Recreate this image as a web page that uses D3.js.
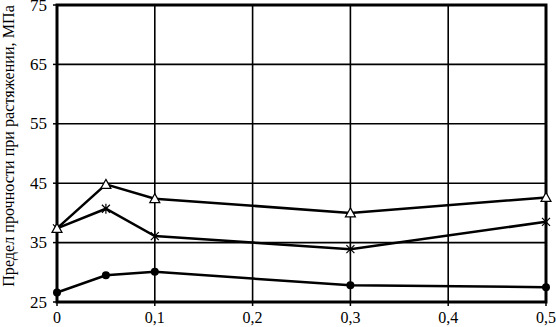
<!DOCTYPE html>
<html>
<head>
<meta charset="utf-8">
<script src="https://cdn.jsdelivr.net/npm/d3@7"></script>
<style>
body { margin: 0; background: #fff; }
svg { display: block; }
</style>
</head>
<body>
<div id="chart"></div>
<script>
var xValues = [0, 0.05, 0.1, 0.3, 0.5];
var triangleSeries = [37.4, 44.8, 42.4, 40.0, 42.6];
var starSeries = [37.4, 40.7, 36.1, 33.9, 38.5];
var circleSeries = [26.6, 29.5, 30.1, 27.8, 27.5];
var xTicks = [0, 0.1, 0.2, 0.3, 0.4, 0.5];
var yTicks = [25, 35, 45, 55, 65, 75];
var yTitle = "Предел прочности при растяжении, МПа";

var width = 556, height = 327,
	plotLeft = 57, plotRight = 546, plotTop = 5, plotBottom = 302,
	fontName = "Liberation Serif";

var svg = d3.select("#chart").append("svg")
	.attr("width", width).attr("height", height);

var x = d3.scaleLinear().domain([0, 0.5]).range([plotLeft, plotRight]);
var y = d3.scaleLinear().domain([25, 75]).range([plotBottom, plotTop]);

// grid
svg.append("g").selectAll("line")
	.data(yTicks.slice(1, -1))
	.enter().append("line")
	.attr("x1", plotLeft).attr("x2", plotRight)
	.attr("y1", function(d) { return y(d); })
	.attr("y2", function(d) { return y(d); })
	.attr("stroke", "#000").attr("stroke-width", 1.6);

svg.append("g").selectAll("line")
	.data(xTicks.slice(1, -1))
	.enter().append("line")
	.attr("y1", plotTop).attr("y2", plotBottom)
	.attr("x1", function(d) { return x(d); })
	.attr("x2", function(d) { return x(d); })
	.attr("stroke", "#000").attr("stroke-width", 1.6);

// frame
svg.append("rect")
	.attr("x", plotLeft).attr("y", plotTop)
	.attr("width", plotRight - plotLeft).attr("height", plotBottom - plotTop)
	.attr("fill", "none").attr("stroke", "#000").attr("stroke-width", 3);

// ticks
svg.append("g").selectAll("line")
	.data(yTicks)
	.enter().append("line")
	.attr("x1", plotLeft - 4).attr("x2", plotLeft)
	.attr("y1", function(d) { return y(d); })
	.attr("y2", function(d) { return y(d); })
	.attr("stroke", "#000").attr("stroke-width", 1.5);

svg.append("g").selectAll("line")
	.data(xTicks)
	.enter().append("line")
	.attr("y1", plotBottom).attr("y2", plotBottom + 4)
	.attr("x1", function(d) { return x(d); })
	.attr("x2", function(d) { return x(d); })
	.attr("stroke", "#000").attr("stroke-width", 1.5);

// tick labels
svg.append("g").selectAll("text")
	.data(yTicks)
	.enter().append("text")
	.attr("x", plotLeft - 10)
	.attr("y", function(d) { return y(d); })
	.attr("dy", "0.33em")
	.attr("text-anchor", "end")
	.attr("font-family", fontName)
	.attr("font-size", 17)
	.text(function(d) { return d; });

svg.append("g").selectAll("text")
	.data(xTicks)
	.enter().append("text")
	.attr("x", function(d) { return x(d); })
	.attr("y", plotBottom + 21)
	.attr("text-anchor", "middle")
	.attr("font-family", fontName)
	.attr("font-size", 16)
	.text(function(d) { return String(d).replace(".", ","); });

var title = svg.append("text")
	.attr("transform", "translate(14,146) rotate(-90)")
	.attr("text-anchor", "middle")
	.attr("font-family", fontName)
	.attr("font-size", 16)
	.text(yTitle);
// scale title so it runs along the whole axis like in the original
var len = title.node().getComputedTextLength();
if (len > 0) title.attr("font-size", 16 * 282 / len);

// series
var line = d3.line()
	.x(function(d, i) { return x(xValues[i]); })
	.y(function(d) { return y(d); });

[circleSeries, starSeries, triangleSeries].forEach(function(s) {
	svg.append("path")
		.datum(s)
		.attr("d", line)
		.attr("fill", "none")
		.attr("stroke", "#000")
		.attr("stroke-width", 2.5);
});

// markers
svg.append("g").selectAll("circle")
	.data(circleSeries)
	.enter().append("circle")
	.attr("cx", function(d, i) { return x(xValues[i]); })
	.attr("cy", function(d) { return y(d); })
	.attr("r", 4)
	.attr("fill", "#000");

svg.append("g").selectAll("path")
	.data(starSeries)
	.enter().append("path")
	.attr("transform", function(d, i) { return "translate(" + x(xValues[i]) + "," + y(d) + ")"; })
	.attr("d", "M-4,-4L4,4M-4,4L4,-4M0,-5L0,5")
	.attr("stroke", "#000").attr("stroke-width", 1.2);

svg.append("g").selectAll("path")
	.data(triangleSeries)
	.enter().append("path")
	.attr("transform", function(d, i) { return "translate(" + x(xValues[i]) + "," + y(d) + ")"; })
	.attr("d", "M0,-5L5,4L-5,4Z")
	.attr("fill", "#fff")
	.attr("stroke", "#000").attr("stroke-width", 1.2);
</script>
</body>
</html>
